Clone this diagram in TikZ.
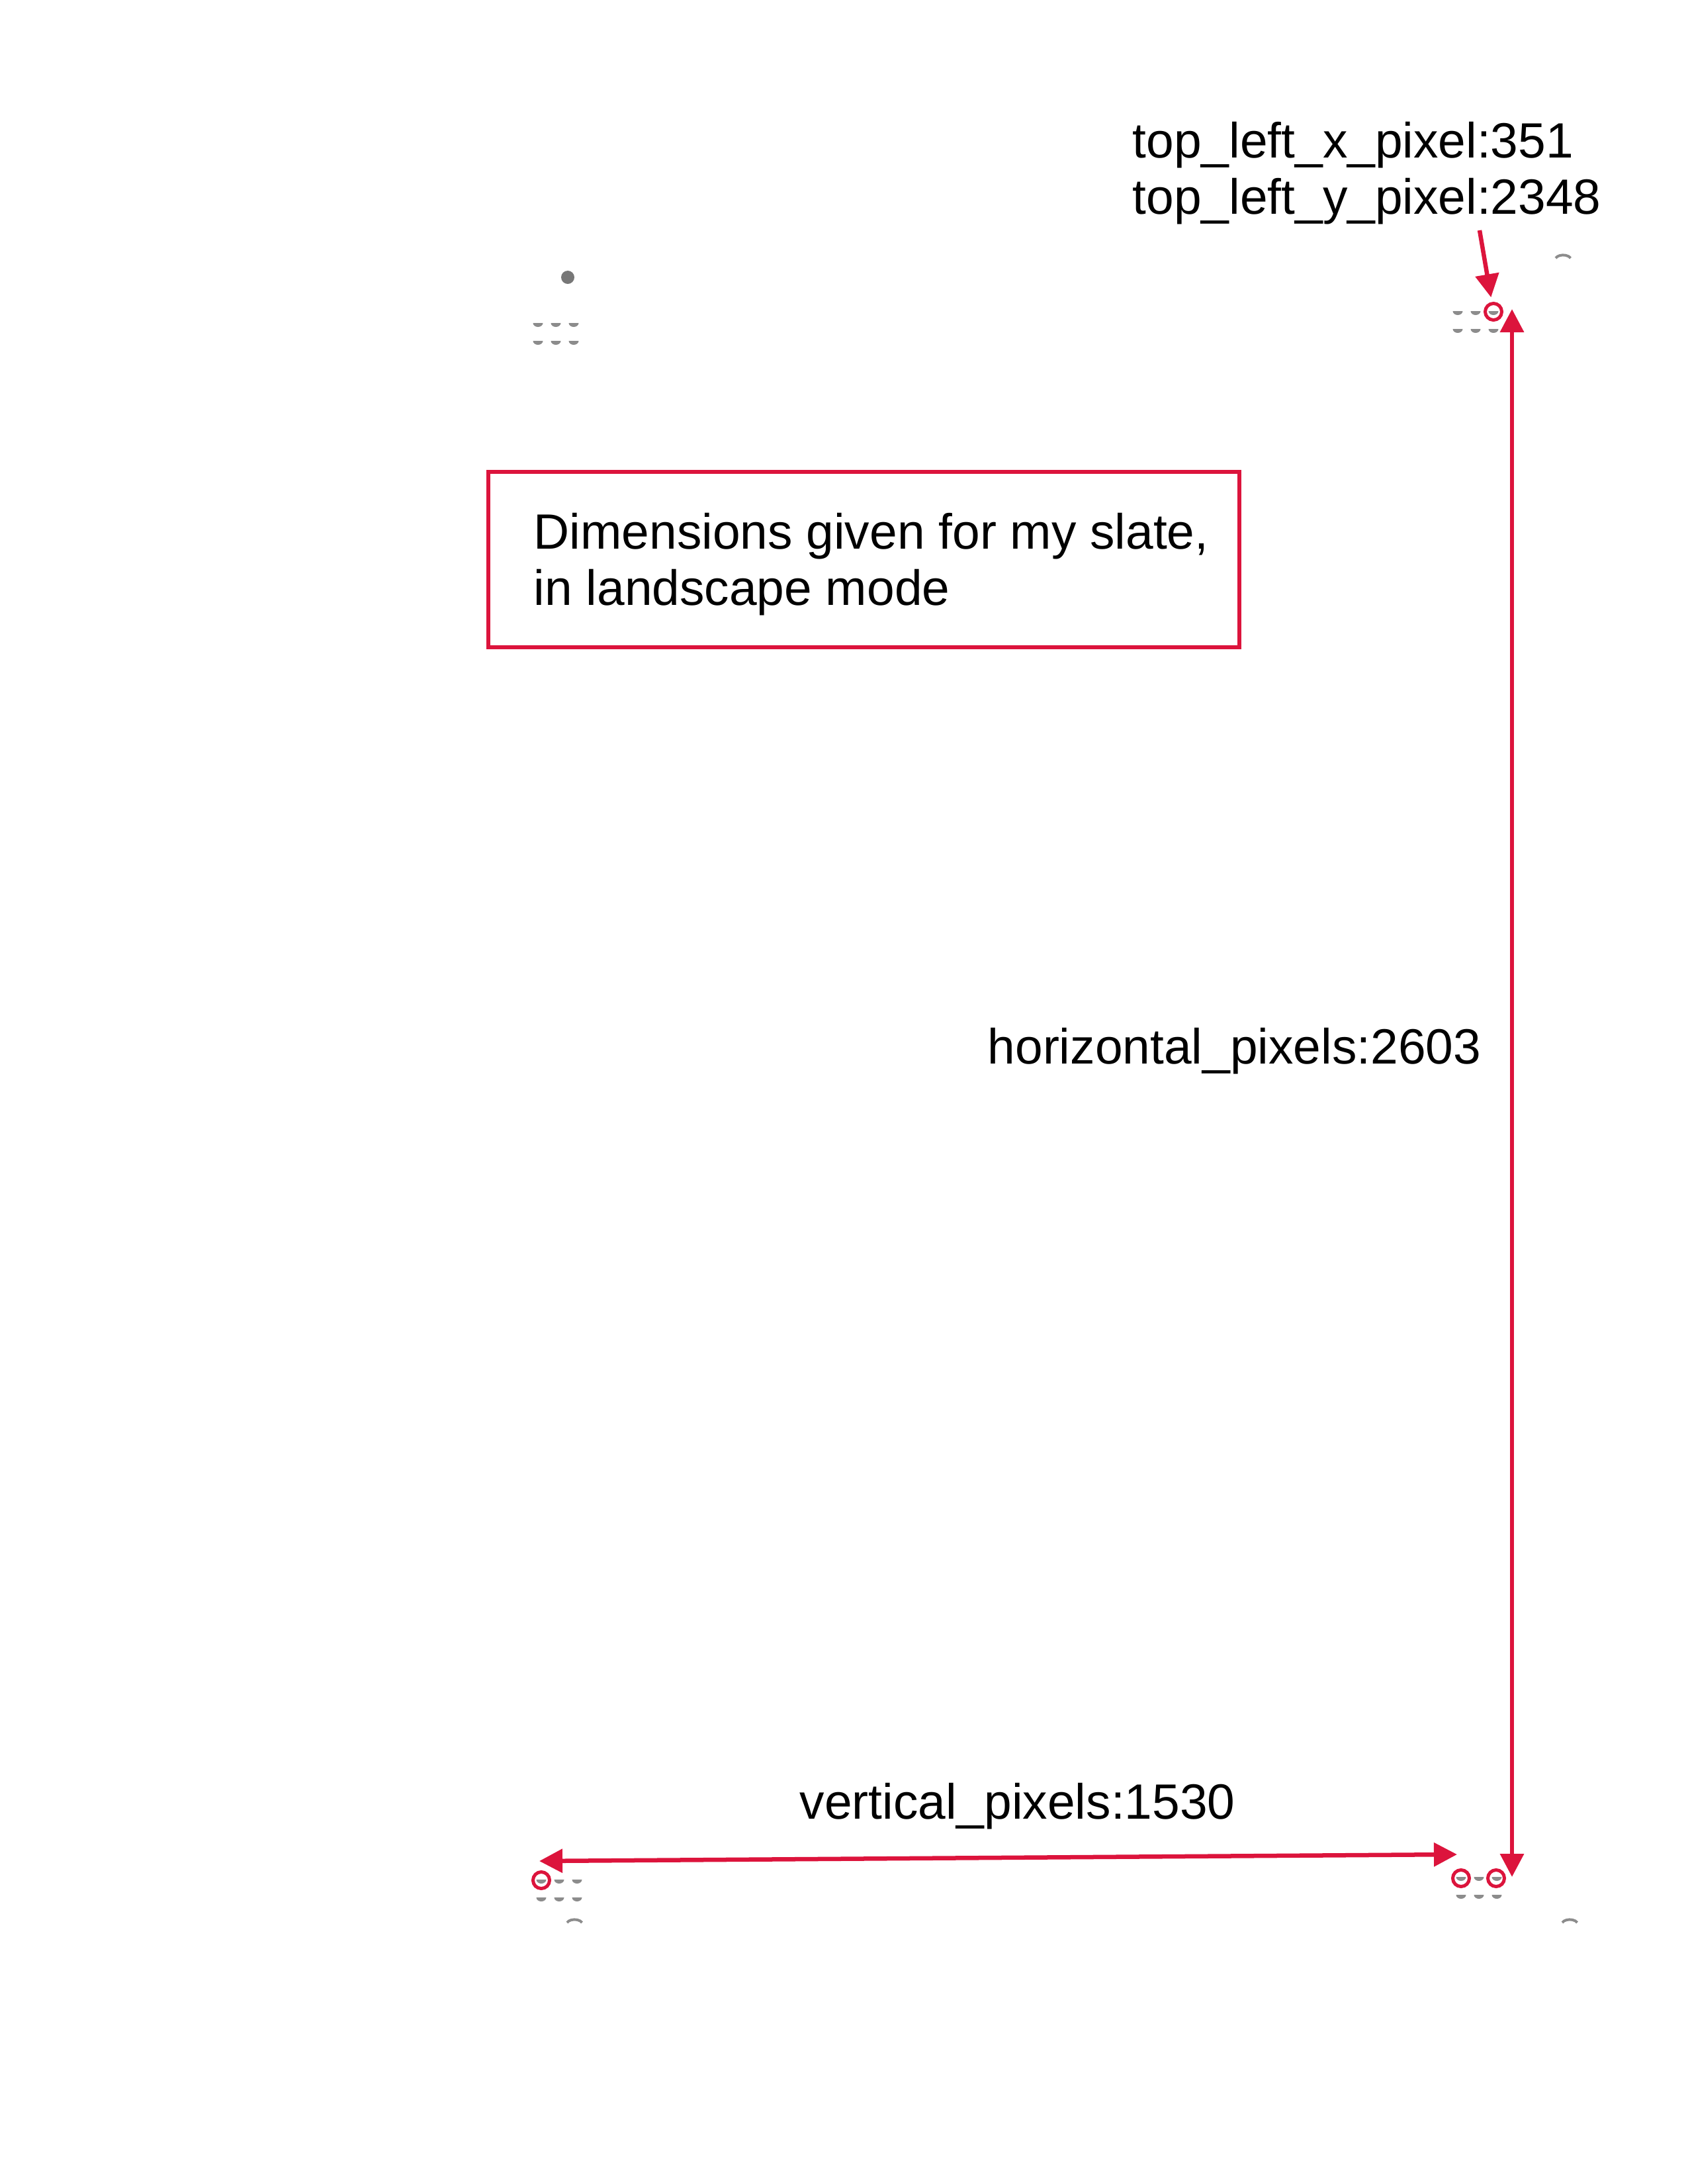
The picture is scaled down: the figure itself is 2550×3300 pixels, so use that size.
\documentclass[tikz,border=0pt]{standalone}
\usepackage{fontspec}
\setmainfont{Liberation Sans}
\usepackage{xcolor}
\usetikzlibrary{arrows.meta}
\definecolor{slateRed}{HTML}{DC143C}
\definecolor{holeGray}{HTML}{8C8C8C}
\tikzset{
  dimArrow/.style={draw=slateRed, line width=0.065cm, -{Triangle[length=0.35cm,width=0.35cm]}},
  dimBoth/.style={draw=slateRed, line width=0.065cm, {Triangle[length=0.35cm,width=0.35cm]}-{Triangle[length=0.35cm,width=0.35cm]}},
  dimCircle/.style={circle, draw=slateRed, line width=0.05cm, minimum size=0.25cm, inner sep=0pt},
  dimLabel/.style={text=black, font=\fontsize{21.3pt}{24pt}\selectfont, inner sep=0pt, anchor=base west, align=left},
  noteBox/.style={draw=slateRed, line width=0.055cm},
  holeDot/.style={fill=holeGray}
}

\begin{document}
\begin{tikzpicture}[x=0.01cm, y=-0.01cm]
  \useasboundingbox (0,0) rectangle (2550,3300);

  \foreach \x/\y in {813/490, 2203/472, 818/2842, 2208/2838} {
    \foreach \i in {0,1,2} {
      \foreach \j in {0,1} {
        \fill[holeDot] (\x+27*\i-7.5,\y+27*\j-2) arc[start angle=180, end angle=360, x radius=0.075cm, y radius=0.06cm] -- cycle;
      }
    }
  }
  \fill[holeGray!85!black] (858,419) circle[radius=0.1cm];
  \draw[holeGray, line width=0.04cm] (2351,390) arc[start angle=160, end angle=20, x radius=0.12cm, y radius=0.07cm];
  \draw[holeGray, line width=0.04cm] (857,2905) arc[start angle=160, end angle=20, x radius=0.12cm, y radius=0.07cm];
  \draw[holeGray, line width=0.04cm] (2361,2905) arc[start angle=160, end angle=20, x radius=0.12cm, y radius=0.07cm];

  \node[dimCircle] (holeTR) at (2257,471) {};
  \node[dimCircle] (holeBL) at (818,2841) {};
  \node[dimCircle] (holeBR) at (2208,2838) {};
  \node[dimCircle] (holeBRb) at (2261,2838) {};

  \node[dimLabel] (cornerLabel) at (1711,323) {top\_left\_x\_pixel:351\\top\_left\_y\_pixel:2348};
  \node[dimLabel] (noteText) at (806,914) {Dimensions given for my slate,\\in landscape mode};
  \draw[noteBox] (738,713) rectangle (1873,978);
  \node[dimLabel] (heightLabel) at (1492,1607) {horizontal\_pixels:2603};
  \node[dimLabel] (widthLabel) at (1208,2748) {vertical\_pixels:1530};

  \coordinate (pointerTail) at (2236,348);
  \coordinate (vTop) at (2285,467);
  \coordinate (vBot) at (2285,2836);
  \coordinate (hLeft) at (815,2812);
  \coordinate (hRight) at (2202,2802);

  \draw[dimArrow, shorten >=0.07cm] (pointerTail) -- (holeTR);
  \draw[dimBoth] (vTop) -- (vBot);
  \draw[dimBoth] (hLeft) -- (hRight);
\end{tikzpicture}
\end{document}
